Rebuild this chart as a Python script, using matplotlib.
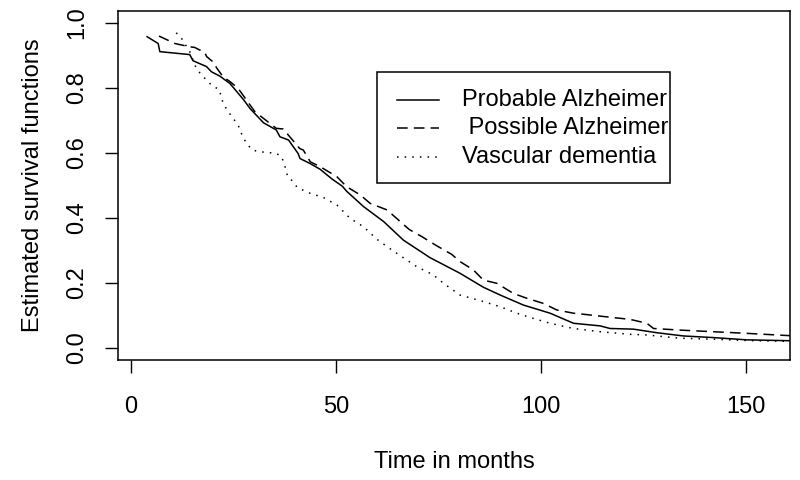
import matplotlib
matplotlib.use("Agg")
import matplotlib.pyplot as plt
from matplotlib.patches import Rectangle

plt.rcParams['font.family'] = ['Liberation Sans', 'DejaVu Sans']

# survival curves (months, estimated survival)
prob_t = [3.9, 6.6, 7.0, 14.3, 15.1, 18.4, 19.6, 21.6, 24.1, 27.5, 29.0, 32.3, 35.4, 36.3, 38.4,
          40.7, 41.2, 43.6, 46.1, 49.0, 51.5, 52.6, 56.7, 61.6, 66.4, 72.9, 80.2, 85.9,
          90.0, 95.7, 102.2, 107.9, 114.4, 116.8, 122.5, 128.2, 134.7, 142.0, 150.2, 162.0]
prob_s = [0.958, 0.937, 0.912, 0.903, 0.884, 0.866, 0.850, 0.837, 0.814, 0.763, 0.737, 0.693, 0.671, 0.650, 0.640,
          0.599, 0.583, 0.568, 0.550, 0.520, 0.498, 0.482, 0.435, 0.389, 0.332, 0.278, 0.230, 0.187,
          0.163, 0.132, 0.107, 0.076, 0.068, 0.060, 0.058, 0.047, 0.037, 0.032, 0.025, 0.022]

poss_t = [6.8, 10.7, 14.3, 15.5, 18.0, 18.4, 20.4, 20.8, 22.4, 24.1, 26.1, 30.2, 35.4, 37.1, 38.7,
          39.5, 41.1, 42.0, 43.7, 46.1, 50.2, 52.6, 55.9, 58.3, 62.4, 65.2, 67.8, 71.0, 74.2,
          78.2, 80.2, 83.5, 85.9, 89.2, 93.2, 96.5, 100.6, 103.8, 107.9, 109.5, 114.4, 121.7,
          125.8, 127.4, 133.9, 142.0, 150.2, 162.0]
poss_s = [0.960, 0.937, 0.927, 0.925, 0.909, 0.897, 0.876, 0.863, 0.835, 0.820, 0.799, 0.727, 0.676, 0.674, 0.650,
          0.638, 0.614, 0.609, 0.573, 0.558, 0.527, 0.496, 0.471, 0.445, 0.425, 0.394, 0.365, 0.342, 0.317,
          0.288, 0.266, 0.240, 0.209, 0.199, 0.168, 0.153, 0.137, 0.117, 0.107, 0.105, 0.098, 0.088,
          0.076, 0.060, 0.055, 0.050, 0.045, 0.037]

vasc_t = [11.0, 12.3, 14.3, 15.9, 17.2, 19.6, 21.6, 22.0, 22.9, 23.7, 26.1, 26.9, 28.1, 29.6, 31.4,
          35.4, 36.7, 37.5, 38.2, 39.1, 40.6, 43.7, 46.9, 50.2, 53.4, 56.7, 59.9, 62.4,
          66.0, 69.7, 73.7, 76.2, 80.2, 85.9, 90.0, 94.1, 98.1, 102.2, 107.9, 114.4, 121.7,
          125.8, 133.9, 142.0, 150.2, 162.0]
vasc_s = [0.970, 0.953, 0.912, 0.860, 0.840, 0.809, 0.794, 0.768, 0.743, 0.727, 0.686, 0.660, 0.630, 0.609, 0.604,
          0.599, 0.589, 0.560, 0.527, 0.517, 0.493, 0.476, 0.463, 0.440, 0.399, 0.373, 0.335, 0.312,
          0.281, 0.250, 0.225, 0.199, 0.163, 0.143, 0.127, 0.107, 0.091, 0.076, 0.060, 0.050, 0.042,
          0.040, 0.030, 0.027, 0.023, 0.020]

labels = ["Probable Alzheimer", " Possible Alzheimer", "Vascular dementia"]
x_ticks = [0, 50, 100, 150]
y_ticks = [0.0, 0.2, 0.4, 0.6, 0.8, 1.0]

fig = plt.figure(figsize=(8, 4.8), dpi=100)
ax = fig.add_axes([0.1475, 0.25, 0.84, 0.727])

styles = ['-', (0, (7, 4)), (0, (1, 4))]
for t, s, ls in zip([prob_t, poss_t, vasc_t], [prob_s, poss_s, vasc_s], styles):
    ax.plot(t, s, color='black', lw=1.1, linestyle=ls)

ax.set_xlim(-3.2, 160.7)
ax.set_ylim(-0.037, 1.037)
ax.set_xticks(x_ticks)
ax.set_xticklabels([str(v) for v in x_ticks])
ax.set_yticks(y_ticks)
ax.set_yticklabels([f"{v:.1f}" for v in y_ticks], rotation=90, va='center')
ax.tick_params(direction='out', length=9.5, width=1, labelsize=17)
ax.tick_params(axis='x', pad=16.5)
ax.tick_params(axis='y', pad=12)
for sp in ax.spines.values():
    sp.set_linewidth(1.1)

ax.set_xlabel("Time in months", fontsize=17, labelpad=24)
ax.set_ylabel("Estimated survival functions", fontsize=17, labelpad=16)

# legend drawn by hand, R style (text runs past the box edge)
ax.add_patch(Rectangle((0.385, 0.507), 0.436, 0.317, transform=ax.transAxes,
                       fill=False, lw=1.1, edgecolor='black'))
rows = [0.745, 0.665, 0.582]
for y, lab, ls in zip(rows, labels, styles):
    ax.plot([0.415, 0.478], [y, y], transform=ax.transAxes, color='black', lw=1.1, linestyle=ls)
    ax.text(0.512, y, lab, transform=ax.transAxes, fontsize=17, va='center', ha='left')

fig.savefig("out.png", dpi=100)
